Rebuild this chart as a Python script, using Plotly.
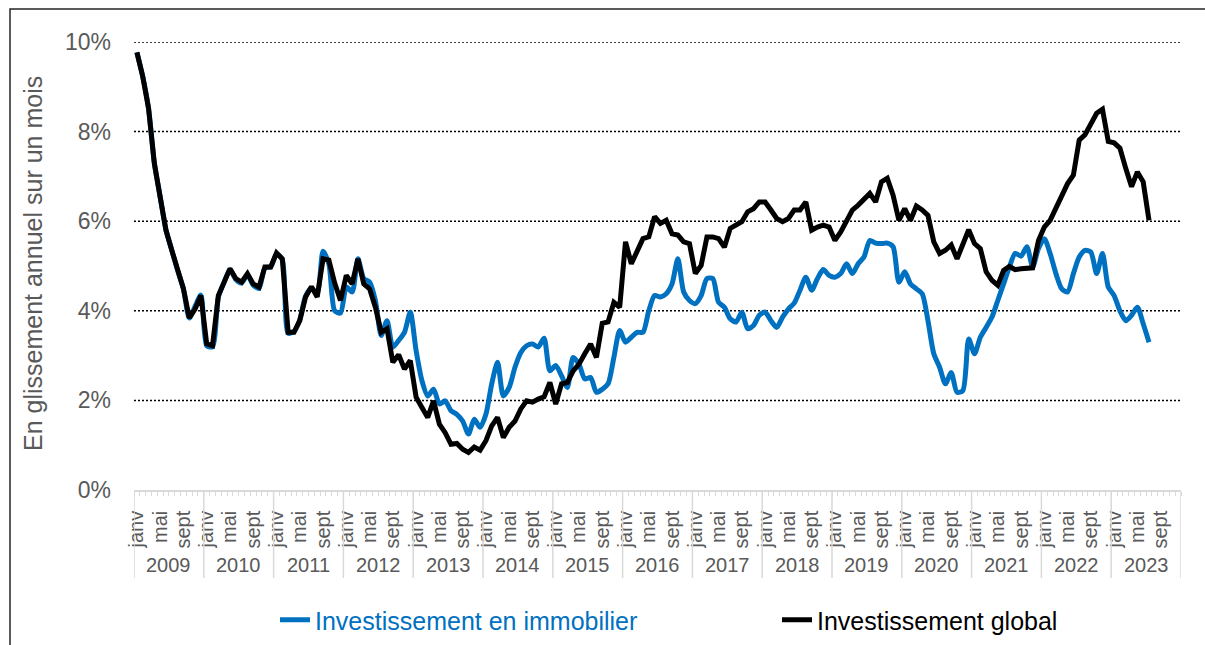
import plotly.graph_objects as go

# ---------------- data ----------------
years = [str(y) for y in range(2009, 2024)]
months = ["janv", "févr", "mars", "avr", "mai", "juin", "juil", "août", "sept", "oct", "nov", "déc"]
shown_months = ["janv", "mai", "sept"]

immobilier = [
    9.77, 9.23, 8.52, 7.29, 6.54, 5.80, 5.35, 4.90, 4.49, 3.84, 4.10, 4.35,
    3.22, 3.20, 4.30, 4.64, 4.92, 4.70, 4.62, 4.80, 4.57, 4.50, 4.96, 4.98,
    5.27, 5.14, 3.50, 3.54, 3.80, 4.33, 4.50, 4.40, 5.33, 5.05, 4.00, 3.95,
    4.53, 4.42, 5.16, 4.72, 4.64, 4.23, 3.45, 3.78, 3.19, 3.34, 3.52, 3.97,
    3.11, 2.44, 2.10, 2.25, 1.92, 1.99, 1.77, 1.69, 1.54, 1.25, 1.58, 1.40,
    1.69, 2.37, 2.85, 2.10, 2.29, 2.74, 3.07, 3.22, 3.26, 3.19, 3.39, 2.66,
    2.78, 2.55, 2.29, 2.96, 2.81, 2.48, 2.51, 2.18, 2.25, 2.37, 2.96, 3.56,
    3.30, 3.41, 3.52, 3.52, 4.00, 4.34, 4.31, 4.38, 4.60, 5.16, 4.42, 4.23,
    4.16, 4.34, 4.72, 4.72, 4.19, 4.08, 3.82, 3.75, 3.97, 3.60, 3.67, 3.90,
    3.97, 3.78, 3.63, 3.86, 4.04, 4.17, 4.46, 4.75, 4.46, 4.72, 4.92, 4.79,
    4.75, 4.83, 5.05, 4.83, 5.05, 5.20, 5.57, 5.51, 5.50, 5.51, 5.43, 4.64,
    4.87, 4.60, 4.49, 4.38, 3.78, 3.04, 2.74, 2.37, 2.62, 2.18, 2.22, 3.37,
    3.04, 3.41, 3.63, 3.86, 4.23, 4.60, 4.98, 5.28, 5.22, 5.43, 4.98, 5.39,
    5.61, 5.28, 4.83, 4.49, 4.42, 4.83, 5.20, 5.35, 5.31, 4.83, 5.28, 4.53,
    4.34, 4.00, 3.78, 3.90, 4.08, 3.71, 3.30,
]

global_inv = [
    9.77, 9.23, 8.52, 7.29, 6.54, 5.80, 5.35, 4.90, 4.49, 3.84, 4.04, 4.34,
    3.26, 3.22, 4.34, 4.64, 4.94, 4.72, 4.64, 4.83, 4.60, 4.53, 4.98, 4.98,
    5.29, 5.16, 3.52, 3.52, 3.78, 4.31, 4.54, 4.31, 5.16, 5.13, 4.62, 4.23,
    4.79, 4.60, 5.16, 4.60, 4.49, 4.08, 3.52, 3.60, 2.85, 3.02, 2.70, 2.89,
    2.07, 1.84, 1.62, 1.99, 1.47, 1.28, 1.02, 1.04, 0.91, 0.84, 0.96, 0.89,
    1.10, 1.43, 1.62, 1.17, 1.40, 1.54, 1.81, 1.99, 1.96, 2.03, 2.08, 2.40,
    1.92, 2.37, 2.40, 2.66, 2.81, 3.04, 3.26, 2.96, 3.72, 3.75, 4.19, 4.08,
    5.54, 5.05, 5.31, 5.61, 5.65, 6.10, 5.95, 6.02, 5.72, 5.69, 5.54, 5.50,
    4.83, 5.01, 5.65, 5.65, 5.61, 5.42, 5.84, 5.91, 5.99, 6.21, 6.28, 6.43,
    6.43, 6.25, 6.06, 5.99, 6.06, 6.25, 6.25, 6.43, 5.80, 5.87, 5.91, 5.87,
    5.57, 5.76, 5.99, 6.25, 6.36, 6.51, 6.62, 6.43, 6.88, 6.96, 6.58, 6.02,
    6.28, 6.02, 6.34, 6.25, 6.13, 5.54, 5.28, 5.35, 5.47, 5.16, 5.50, 5.81,
    5.50, 5.39, 4.87, 4.68, 4.57, 4.90, 4.99, 4.92, 4.94, 4.96, 4.96, 5.57,
    5.87, 6.02, 6.28, 6.58, 6.84, 7.03, 7.81, 7.93, 8.19, 8.41, 8.50, 7.78,
    7.75, 7.63, 7.18, 6.77, 7.10, 6.88, 6.02,
]

y_ticks = [0, 2, 4, 6, 8, 10]

# ---------------- derived positions (category index) ----------------
n_cat = len(years) * len(months)
x_imm = list(range(len(immobilier)))
x_glob = list(range(len(global_inv)))

month_tickvals, month_ticktext = [], []
for yi, _ in enumerate(years):
    for mi, m in enumerate(months):
        if m in shown_months:
            month_tickvals.append(yi * len(months) + mi)
            month_ticktext.append(m)

FONT = "Arial, Liberation Sans, sans-serif"
GREY = "#595959"
LIGHT = "#d9d9d9"
BLUE = "#0070C0"

W, H = 1205, 645
L, R, T, B = 134, 24, 42, 155
pw, ph = W - L - R, H - T - B

def px_x(p):
    return (p - L) / pw

def px_y(p):
    return (H - B - p) / ph

fig = go.Figure()
fig.add_trace(go.Scatter(
    x=x_imm, y=immobilier, mode="lines",
    name="Investissement en immobilier", legend="legend",
    line=dict(color=BLUE, width=5, shape="spline", smoothing=0.7),
    hoverinfo="skip",
))
fig.add_trace(go.Scatter(
    x=x_glob, y=global_inv, mode="lines",
    name="Investissement global", legend="legend2",
    line=dict(color="#000000", width=5),
    hoverinfo="skip",
))

shapes = []
# dotted horizontal gridlines (no gridline at 0 %)
for v in y_ticks[1:]:
    shapes.append(dict(type="line", xref="paper", yref="y", x0=0, x1=1, y0=v, y1=v,
                       line=dict(color="#000000", width=1.5, dash="2px,2px"), layer="below"))
# year dividers
for yi in range(len(years) + 1):
    xv = yi * len(months) - 0.5
    shapes.append(dict(type="line", xref="x", yref="paper", x0=xv, x1=xv,
                       y0=0, y1=px_y(578), line=dict(color=LIGHT, width=1.5)))
# outer frame
shapes.append(dict(type="rect", xref="paper", yref="paper",
                   x0=px_x(10), x1=px_x(1230), y0=px_y(670), y1=px_y(9),
                   line=dict(color="#262626", width=1.5), layer="below"))

annotations = []
for yi, yr in enumerate(years):
    annotations.append(dict(x=yi * len(months) + (len(months) - 1) / 2, xref="x",
                            y=px_y(565), yref="paper", text=yr, showarrow=False,
                            xanchor="center", yanchor="middle",
                            font=dict(family=FONT, size=20, color=GREY)))
annotations.append(dict(x=px_x(33), xref="paper", y=px_y(264), yref="paper",
                        text="En glissement annuel sur un mois", textangle=-90,
                        xanchor="center", yanchor="middle",
                        showarrow=False, font=dict(family=FONT, size=25, color=GREY)))

fig.update_layout(
    width=W, height=H,
    margin=dict(l=L, r=R, t=T, b=B, autoexpand=False),
    paper_bgcolor="white", plot_bgcolor="white",
    font=dict(family=FONT, color=GREY),
    shapes=shapes, annotations=annotations,
    showlegend=True,
    legend=dict(orientation="h", x=px_x(275), xanchor="left", y=px_y(620), yanchor="middle",
                font=dict(family=FONT, size=25, color=BLUE), bgcolor="rgba(0,0,0,0)"),
    legend2=dict(orientation="h", x=px_x(777), xanchor="left", y=px_y(620), yanchor="middle",
                 font=dict(family=FONT, size=25, color="#000000"), bgcolor="rgba(0,0,0,0)"),
)

fig.update_xaxes(
    range=[-0.5, n_cat - 0.5], showgrid=False, zeroline=False,
    showline=True, linecolor=LIGHT, linewidth=1.5,
    tickmode="array", tickvals=month_tickvals, ticktext=month_ticktext,
    tickangle=-90, ticks="", ticklabelstandoff=11,
    tickfont=dict(family=FONT, size=20, color=GREY),
    minor=dict(ticks="outside", ticklen=4, tickcolor=LIGHT, tickwidth=1,
               tickmode="array", tickvals=[i - 0.5 for i in range(n_cat + 1)], showgrid=False),
    fixedrange=True,
)
fig.update_yaxes(
    range=[0, 10], showline=False, zeroline=False, showgrid=False,
    tickmode="array", tickvals=y_ticks, ticktext=[f"{v}%" for v in y_ticks],
    ticks="", ticklabelstandoff=22,
    tickfont=dict(family=FONT, size=23, color=GREY),
    fixedrange=True,
)

fig.write_html("out.html", config={"displayModeBar": False},
               post_script="document.body.style.margin='0';")
